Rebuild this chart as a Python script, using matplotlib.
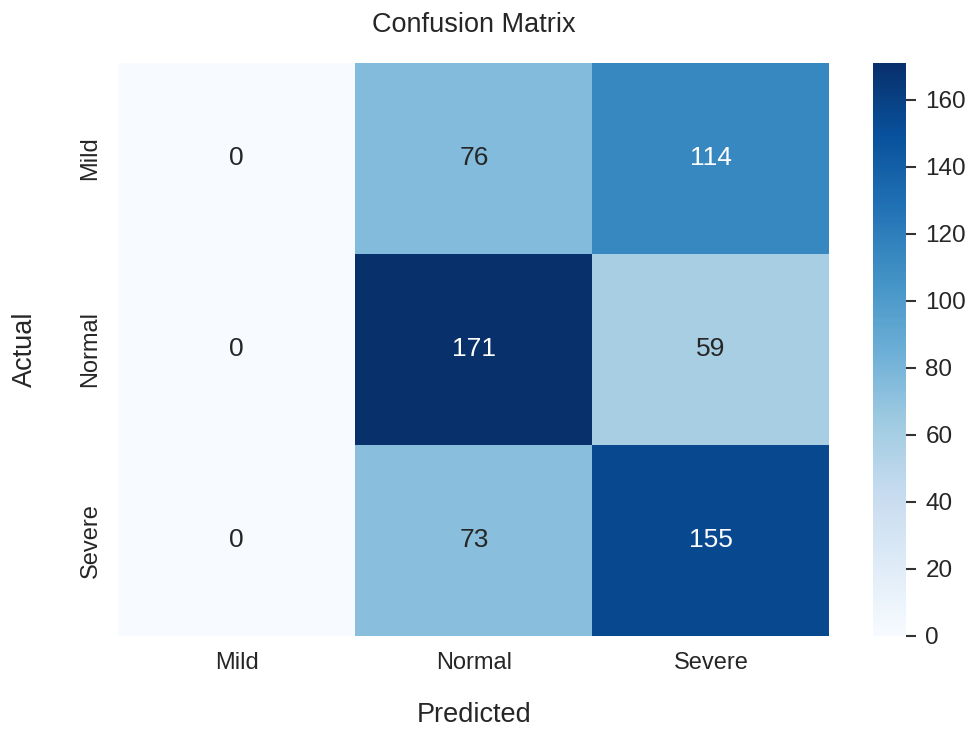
import numpy as np
import matplotlib.pyplot as plt
import seaborn as sns

sns.set_theme(style="white")
plt.rcParams['font.family'] = ['Liberation Sans', 'DejaVu Sans']

labels = ["Mild", "Normal", "Severe"]
cm = np.array([
    [0, 76, 114],
    [0, 171, 59],
    [0, 73, 155],
])

fig = plt.figure(figsize=(9.69, 7.3), dpi=100)
ax = fig.add_axes([0.122, 0.129, 0.734, 0.785])
cax = fig.add_axes([0.901, 0.129, 0.034, 0.785])

sns.heatmap(cm, annot=True, fmt="d", cmap="Blues", ax=ax, cbar_ax=cax,
            xticklabels=labels, yticklabels=labels,
            annot_kws={"size": 19})

ax.set_title("Confusion Matrix", fontsize=19.5, pad=22)
ax.set_xlabel("Predicted", fontsize=19.5, labelpad=20)
ax.set_ylabel("Actual", fontsize=19.5, labelpad=30)
ax.tick_params(axis="both", labelsize=17, length=0, pad=12)

cax.tick_params(labelsize=17.5, length=7, width=1.5, color="#333333", direction="out", pad=7)
cax.yaxis.set_ticks_position("right")
cax.set_yticks(range(0, 161, 20))
for s in cax.spines.values():
    s.set_visible(False)

fig.savefig("out.png", dpi=100)
